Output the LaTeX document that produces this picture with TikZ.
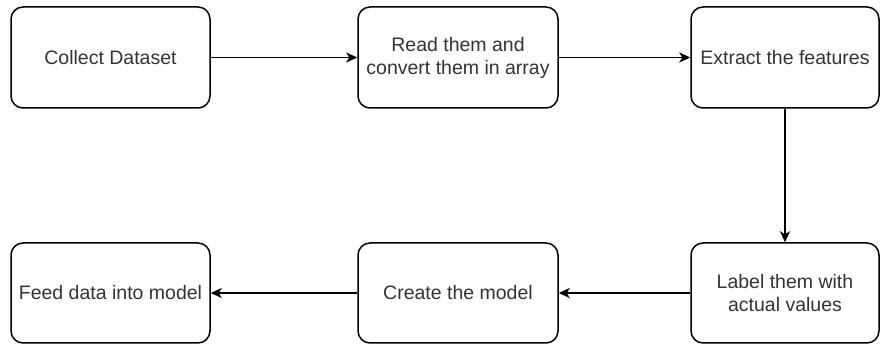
\documentclass[tikz,border=0pt]{standalone}
\usepackage{fontspec}
\setmainfont{Liberation Sans}
\usetikzlibrary{arrows.meta}
\begin{document}
\begin{tikzpicture}[x=1pt,y=-1pt,
  stepbox/.style={draw=black, line width=1.5pt, rounded corners=12pt, align=center,
    font=\fontsize{19.5}{23}\selectfont, text=black!80, inner sep=0pt},
  conn/.style={draw=black, line width=1.5pt, -{Stealth[length=11pt,width=10pt,inset=3pt]}}]
\useasboundingbox (0,0) rectangle (881,344);
\node[stepbox, minimum width=199pt, minimum height=101pt] (b1) at (110.5,57.5) {Collect Dataset};
\node[stepbox, minimum width=200pt, minimum height=101pt] (b2) at (458,57.5) {Read them and\\convert them in array};
\node[stepbox, minimum width=188pt, minimum height=101pt] (b3) at (785,57.5) {Extract the features};
\node[stepbox, minimum width=188pt, minimum height=100pt] (b6) at (785,293) {Label them with\\actual values};
\node[stepbox, minimum width=200pt, minimum height=100pt] (b5) at (458,293) {Create the model};
\node[stepbox, minimum width=199pt, minimum height=100pt] (b4) at (110.5,293) {Feed data into model};
\draw[conn] (b1) -- (b2);
\draw[conn] (b2) -- (b3);
\draw[conn] (b3) -- (b6);
\draw[conn] (b6) -- (b5);
\draw[conn] (b5) -- (b4);
\end{tikzpicture}
\end{document}
